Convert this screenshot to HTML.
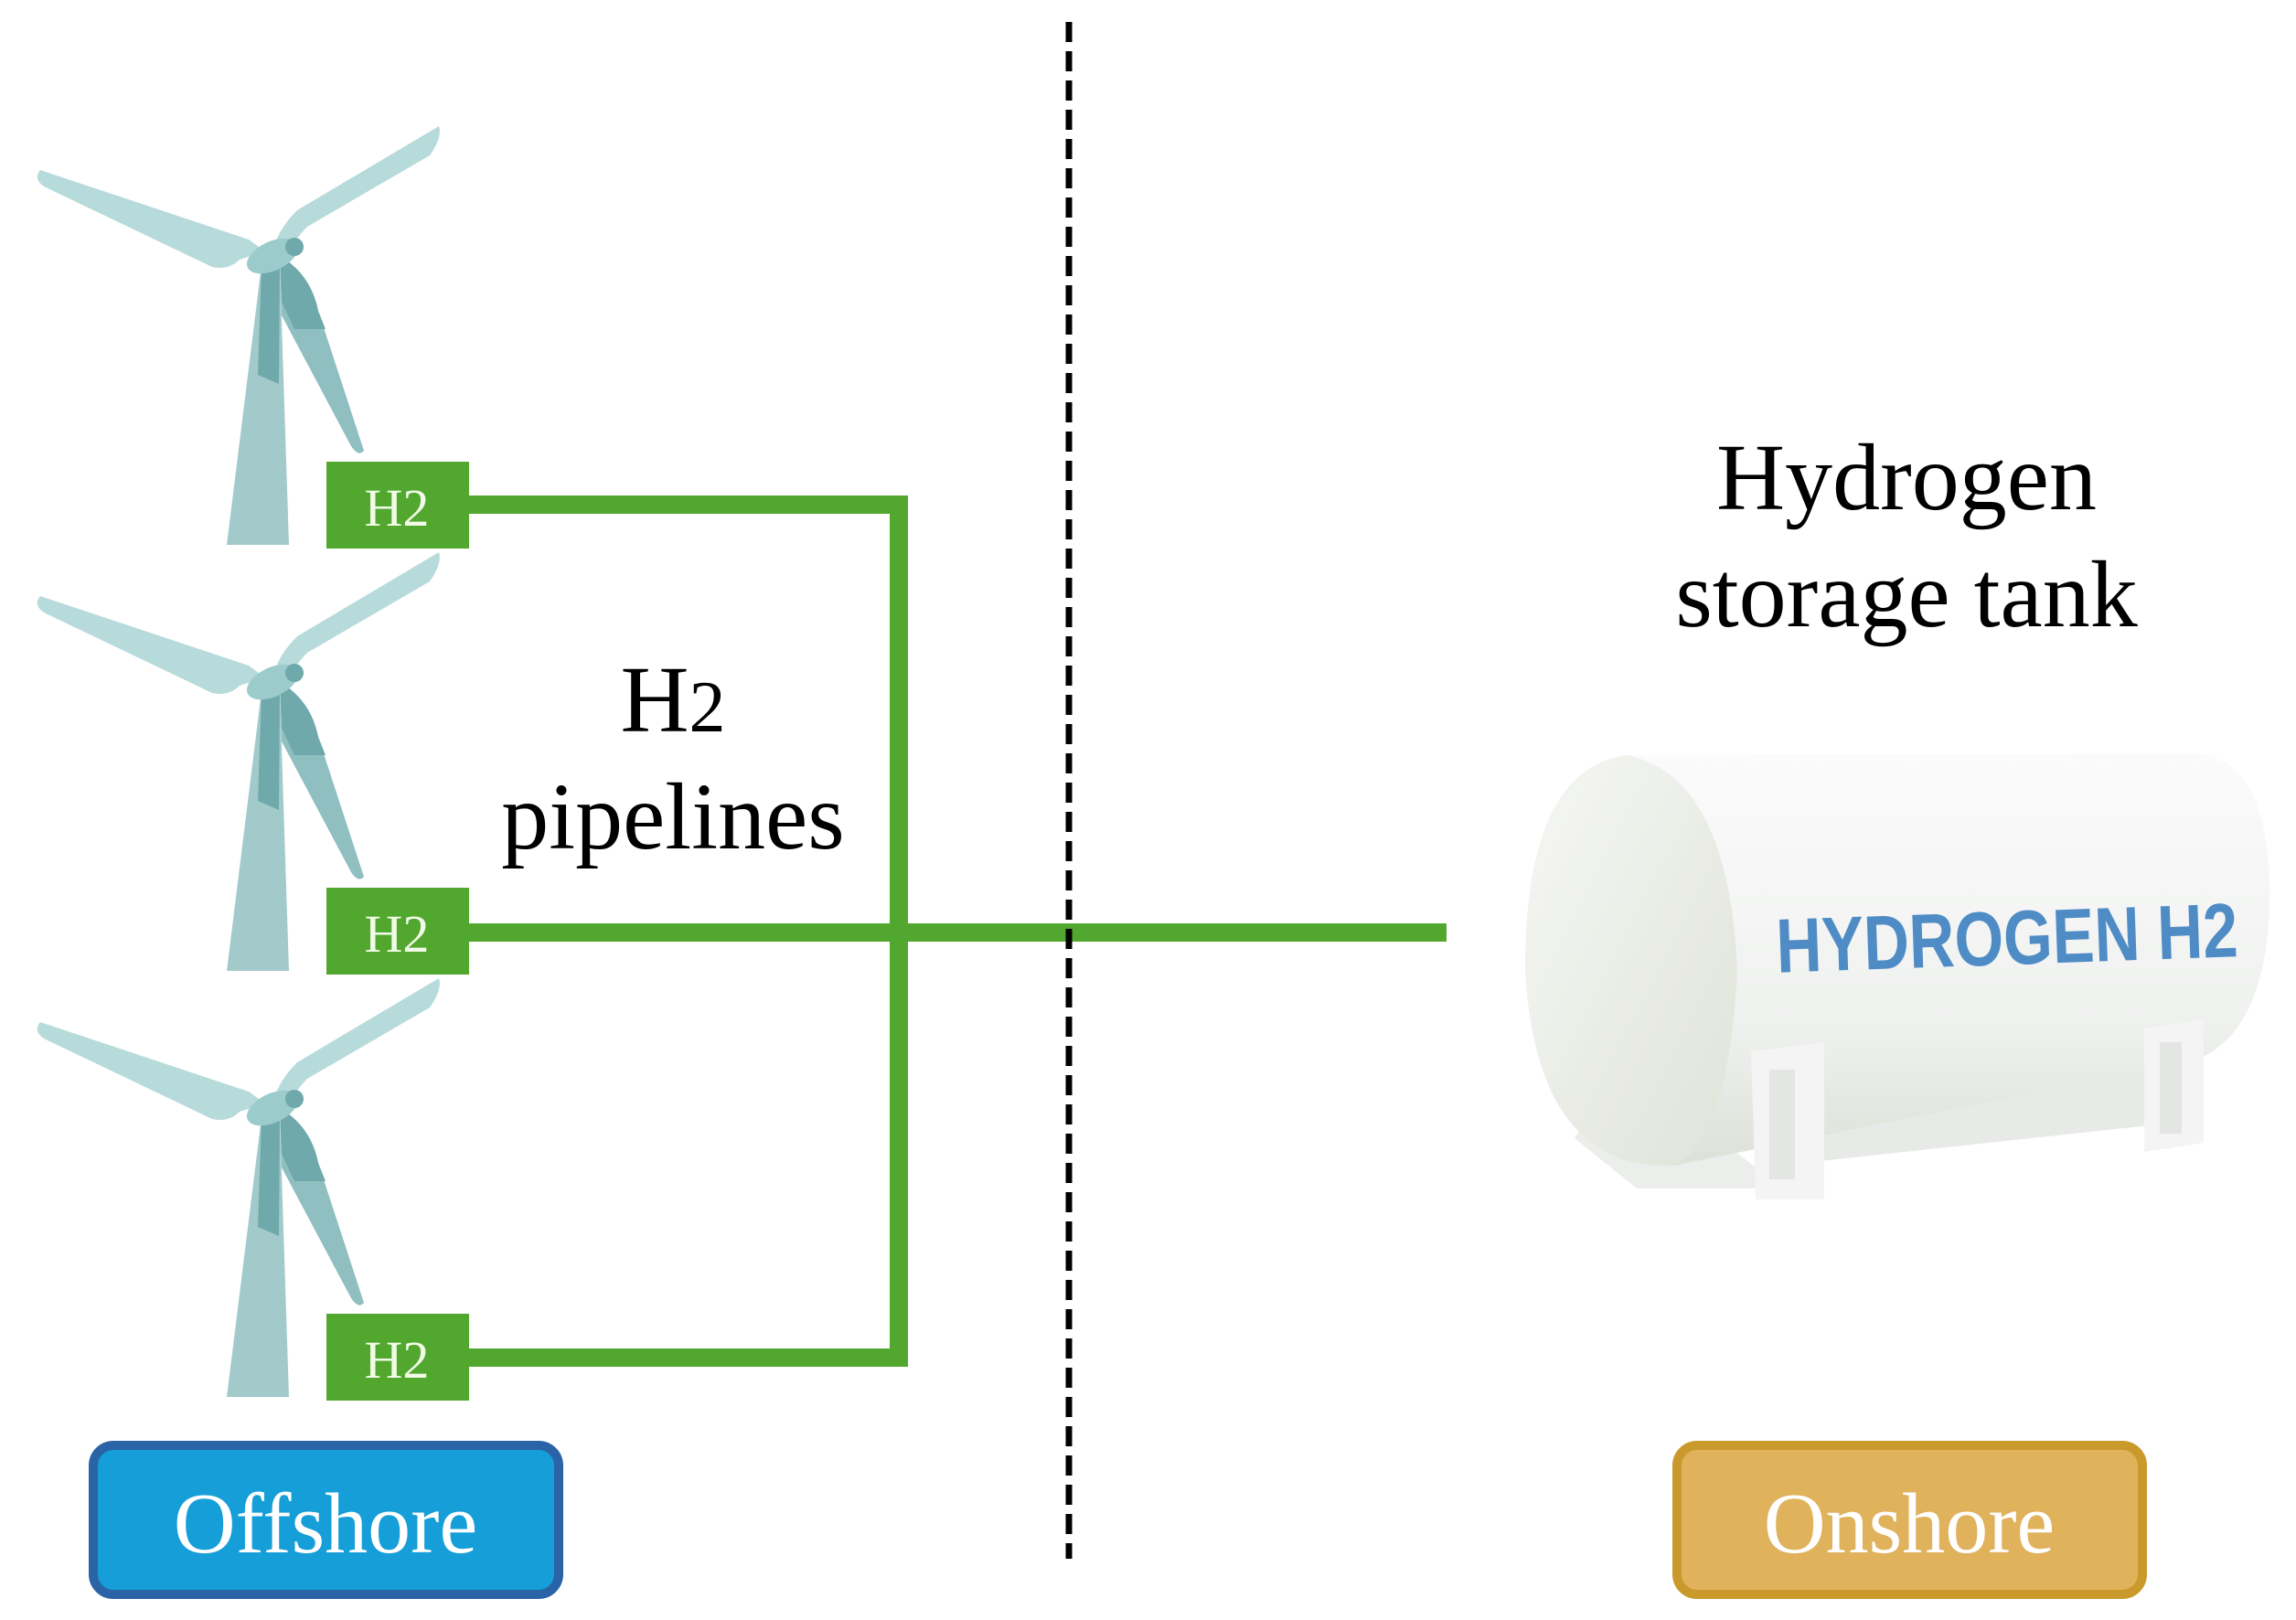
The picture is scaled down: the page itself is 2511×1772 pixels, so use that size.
<!DOCTYPE html>
<html><head><meta charset="utf-8"><style>
html,body{margin:0;padding:0;background:#fff;}
svg{display:block;}
.s{font-family:"Liberation Serif",serif;}
</style></head><body>
<svg width="2511" height="1772" viewBox="0 0 2511 1772" xmlns="http://www.w3.org/2000/svg">
<defs>
<g id="turb">
  <polygon points="286,290 306,290 316,596 248,596" fill="#a2cacb"/>
  <polygon points="286,290 306,290 305,420 282,410" fill="#6fa9ab"/>
  <path d="M44,186 Q36,196 48,204 L232,292 Q250,296 262,284 L290,275 L272,262 Z" fill="#b7dadb"/>
  <path d="M480,138 Q484,150 470,170 L336,248 Q322,262 312,282 L300,270 Q305,250 325,230 Z" fill="#b7dadb"/>
  <path d="M306,280 Q340,300 348,340 L398,493 Q392,500 384,488 L308,345 Z" fill="#8fbfc1"/>
  <path d="M306,280 Q340,300 348,340 L356,360 L322,360 L308,330 Z" fill="#6fa9ab"/>
  <ellipse cx="298" cy="280" rx="30" ry="16" fill="#9ccbcc" transform="rotate(-25 298 280)"/>
  <circle cx="322" cy="270" r="10" fill="#6fa9ab"/>
</g>
<linearGradient id="tankg" x1="0" y1="0" x2="0" y2="1">
  <stop offset="0" stop-color="#fbfbfb"/>
  <stop offset="0.65" stop-color="#eff1ef"/>
  <stop offset="1" stop-color="#dde1d8"/>
</linearGradient>
<linearGradient id="capg" x1="0" y1="0" x2="1" y2="1">
  <stop offset="0" stop-color="#f6f7f5"/>
  <stop offset="1" stop-color="#dfe3d8"/>
</linearGradient>
</defs>

<use href="#turb"/>
<use href="#turb" y="466"/>
<use href="#turb" y="932"/>

<g stroke="#52a82e" stroke-width="20" fill="none">
  <polyline points="510,552 983,552 983,1485 510,1485"/>
  <line x1="510" y1="1020" x2="1582" y2="1020"/>
</g>

<g fill="#52a82e">
  <rect x="357" y="505" width="156" height="95"/>
  <rect x="357" y="971" width="156" height="95"/>
  <rect x="357" y="1437" width="156" height="95"/>
</g>
<g class="s" fill="#f2fbe8" font-size="58" text-anchor="middle">
  <text x="434" y="575">H2</text>
  <text x="434" y="1041">H2</text>
  <text x="434" y="1507">H2</text>
</g>

<line x1="1169" y1="24" x2="1169" y2="1705" stroke="#000" stroke-width="7" stroke-dasharray="22 10"/>

<text class="s" x="736" y="800" font-size="104" text-anchor="middle">H<tspan font-size="80">2</tspan></text>
<text class="s" x="736" y="928" font-size="104" text-anchor="middle">pipelines</text>
<text class="s" x="2085" y="557" font-size="104" text-anchor="middle">Hydrogen</text>
<text class="s" x="2085" y="685" font-size="104" text-anchor="middle">storage tank</text>

<!-- tank -->
<polygon points="1740,1215 1840,1215 1950,1300 1790,1300 1722,1245" fill="#eceeec"/>
<polygon points="1960,1190 2350,1160 2360,1230 1990,1270" fill="#e8eae8"/>
<path d="M1780,826 L2400,824 Q2485,830 2482,990 Q2478,1130 2400,1160 L1830,1275 Q1680,1280 1668,1060 Q1668,840 1780,826 Z" fill="url(#tankg)"/>
<path d="M1780,826 Q1890,850 1900,1060 Q1890,1250 1830,1275 Q1680,1280 1668,1060 Q1668,840 1780,826 Z" fill="url(#capg)"/>
<text x="2195" y="1055" style="font-family:'Liberation Sans',sans-serif;font-weight:bold" font-size="84" fill="#4f8cc6" text-anchor="middle" transform="rotate(-2 2195 1030)" textLength="505" lengthAdjust="spacingAndGlyphs">HYDROGEN H2</text>
<polygon points="1915,1150 1995,1140 1995,1312 1920,1312" fill="#f3f4f3"/>
<rect x="1935" y="1170" width="28" height="120" fill="#e3e6e3"/>
<polygon points="2345,1125 2410,1115 2410,1250 2345,1260" fill="#f3f4f3"/>
<rect x="2362" y="1140" width="24" height="100" fill="#e3e6e3"/>

<rect x="102" y="1581" width="509" height="163" rx="22" fill="#159ed8" stroke="#2a64a6" stroke-width="10"/>
<text class="s" x="356" y="1698" font-size="94" fill="#fff" text-anchor="middle">Offshore</text>
<rect x="1834" y="1581" width="509" height="163" rx="22" fill="#e0b25c" stroke="#c99a2b" stroke-width="10"/>
<text class="s" x="2088" y="1698" font-size="94" fill="#fff" text-anchor="middle">Onshore</text>
</svg>
</body></html>
